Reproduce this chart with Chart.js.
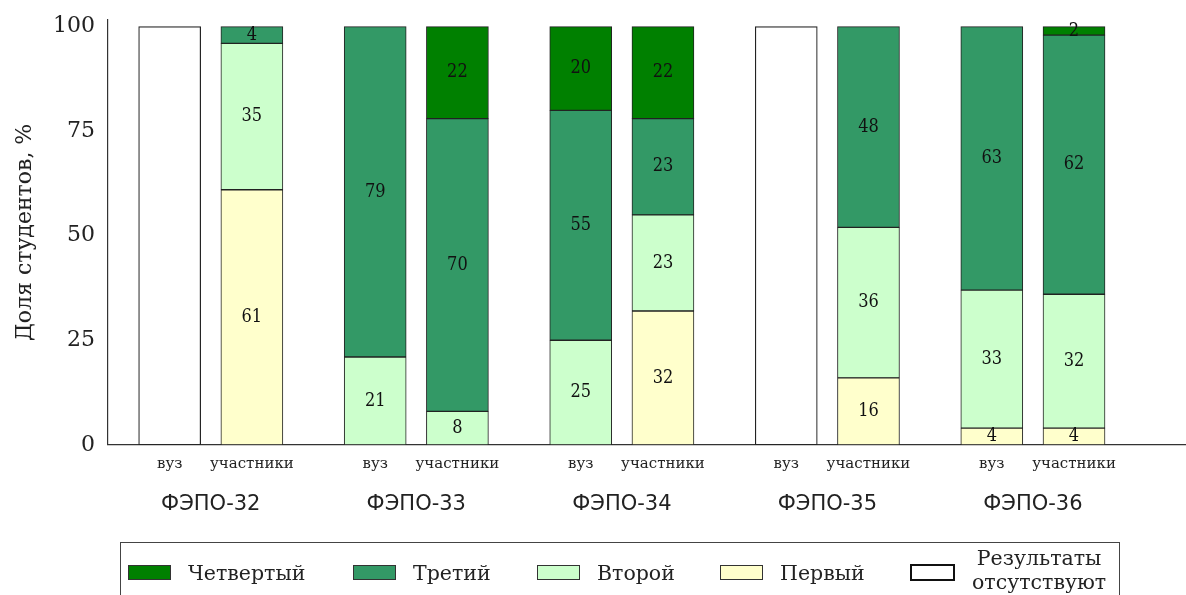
<!DOCTYPE html>
<html>
<head>
<meta charset="utf-8">
<script src="https://cdn.jsdelivr.net/npm/chart.js@4"></script>
<style>
  body { margin: 0; background: #fff; }
  #wrap { position: relative; width: 1186px; height: 595px; overflow: hidden; }
  #legend {
    position: absolute; left: 120px; top: 542px; width: 1000px; height: 70px;
    border: 1.5px solid #444; box-sizing: border-box;
    font-family: 'DejaVu Serif', serif; font-size: 20.5px; color: #222;
  }
  .item { position: absolute; top: 0; height: 60px; display: flex; align-items: center; }
  .sw { width: 41px; height: 13px; border: 1.5px solid #333; margin-right: 17px; margin-top: -2px; }
</style>
</head>
<body>
<div id="wrap">
  <canvas id="chart" width="1186" height="595"></canvas>
  <div id="legend"></div>
</div>
<script>
// bars: вуз / участники for each ФЭПО round
const groups = ["ФЭПО-32", "ФЭПО-33", "ФЭПО-34", "ФЭПО-35", "ФЭПО-36"];
const barLabels = ["вуз", "участники", "вуз", "участники", "вуз", "участники", "вуз", "участники", "вуз", "участники"];
// x positions of the bars (two per group, groups 5 units apart)
const barPos = [0, 2, 5, 7, 10, 12, 15, 17, 20, 22];
const groupPos = [1, 6, 11, 16, 21];

const first  = [0, 61, 0, 0, 0, 32, 0, 16, 4, 4];
const second = [0, 35, 21, 8, 25, 23, 0, 36, 33, 32];
const third  = [0, 4, 79, 70, 55, 23, 0, 48, 63, 62];
const fourth = [0, 0, 0, 22, 20, 22, 0, 0, 0, 2];
const absent = [100, 0, 0, 0, 0, 0, 100, 0, 0, 0];

const yTicks = [0, 25, 50, 75, 100];

const seriesNames = ["Первый", "Второй", "Третий", "Четвертый", "Результаты отсутствуют"];
const seriesColors = ["#ffffcc", "#ccffcc", "#339966", "#008000", "#ffffff"];
const seriesData = [first, second, third, fourth, absent];
const legendOrder = [3, 2, 1, 0, 4];

const datasets = seriesData.map((arr, i) => ({
  label: seriesNames[i],
  data: arr.map((v, j) => ({ x: barPos[j], y: v > 0 ? v : null })),
  backgroundColor: seriesColors[i],
  borderColor: "#222",
  borderWidth: i === 4 ? 1.2 : 1,
  borderSkipped: false,
  showLabel: i !== 4
}));

const valueLabels = {
  id: "valueLabels",
  afterDatasetsDraw(chart) {
    const ctx = chart.ctx;
    ctx.save();
    ctx.font = "18px 'DejaVu Serif Condensed', 'DejaVu Serif', serif";
    ctx.fillStyle = "#111";
    ctx.textAlign = "center";
    ctx.textBaseline = "middle";
    chart.data.datasets.forEach((ds, i) => {
      if (!ds.showLabel) return;
      chart.getDatasetMeta(i).data.forEach((el, j) => {
        const v = ds.data[j].y;
        if (!v) return;
        ctx.fillText(String(v), el.x, (el.y + el.base) / 2);
      });
    });
    ctx.restore();
  }
};

new Chart(document.getElementById("chart"), {
  type: "bar",
  data: { datasets },
  options: {
    responsive: false,
    animation: false,
    layout: { padding: { left: 0, right: 1, top: 20, bottom: 69 } },
    plugins: { legend: { display: false }, tooltip: { enabled: false } },
    datasets: { bar: { barThickness: 62 } },
    scales: {
      x: {
        type: "linear", min: -1.5, max: 24.7, stacked: true, offset: false,
        grid: { display: false, drawTicks: false },
        border: { color: "#333", width: 1.2 },
        afterBuildTicks: s => { s.ticks = barPos.map(v => ({ value: v })); },
        ticks: {
          autoSkip: false, maxRotation: 0, padding: 10,
          color: "#222",
          font: { family: "'DejaVu Serif', serif", size: 15 },
          callback: (v) => barLabels[barPos.indexOf(v)]
        }
      },
      x2: {
        type: "linear", position: "bottom", min: -1.5, max: 24.7, offset: false,
        grid: { display: false, drawTicks: false },
        border: { display: false },
        afterBuildTicks: s => { s.ticks = groupPos.map(v => ({ value: v })); },
        ticks: {
          autoSkip: false, maxRotation: 0, padding: 9,
          color: "#222",
          font: { family: "'DejaVu Sans', sans-serif", size: 21 },
          callback: (v) => groups[groupPos.indexOf(v)]
        }
      },
      y: {
        min: 0, max: 101.6, stacked: true,
        grid: { display: false, drawTicks: false },
        border: { color: "#333", width: 1.2 },
        afterBuildTicks: s => { s.ticks = yTicks.map(v => ({ value: v })); },
        afterFit: s => { s.width = 108; s.paddingTop = 0; s.paddingBottom = 0; },
        ticks: {
          padding: 13, color: "#222",
          font: { family: "'DejaVu Serif', serif", size: 22 }
        },
        title: {
          display: true, text: "Доля студентов, %", color: "#222",
          font: { family: "'DejaVu Serif', serif", size: 22 }, padding: { top: 12, bottom: 0 }
        }
      }
    }
  },
  plugins: [valueLabels]
});

// legend box below the plot
const leg = document.getElementById("legend");
const itemLeft = [7, 232, 416, 599, 789];
legendOrder.forEach((k, n) => {
  const d = document.createElement("div");
  d.className = "item";
  d.style.left = itemLeft[n] + "px";
  const sw = document.createElement("div");
  sw.className = "sw";
  sw.style.background = seriesColors[k];
  if (k === 4) sw.style.border = "2.5px solid #111";
  const t = document.createElement("div");
  if (k === 4) {
    t.innerHTML = "Результаты<br>отсутствуют";
    t.style.lineHeight = "24px";
    t.style.textAlign = "center";
    t.style.marginTop = "-6px";
  } else {
    t.textContent = seriesNames[k];
  }
  d.appendChild(sw);
  d.appendChild(t);
  leg.appendChild(d);
});
</script>
</body>
</html>
